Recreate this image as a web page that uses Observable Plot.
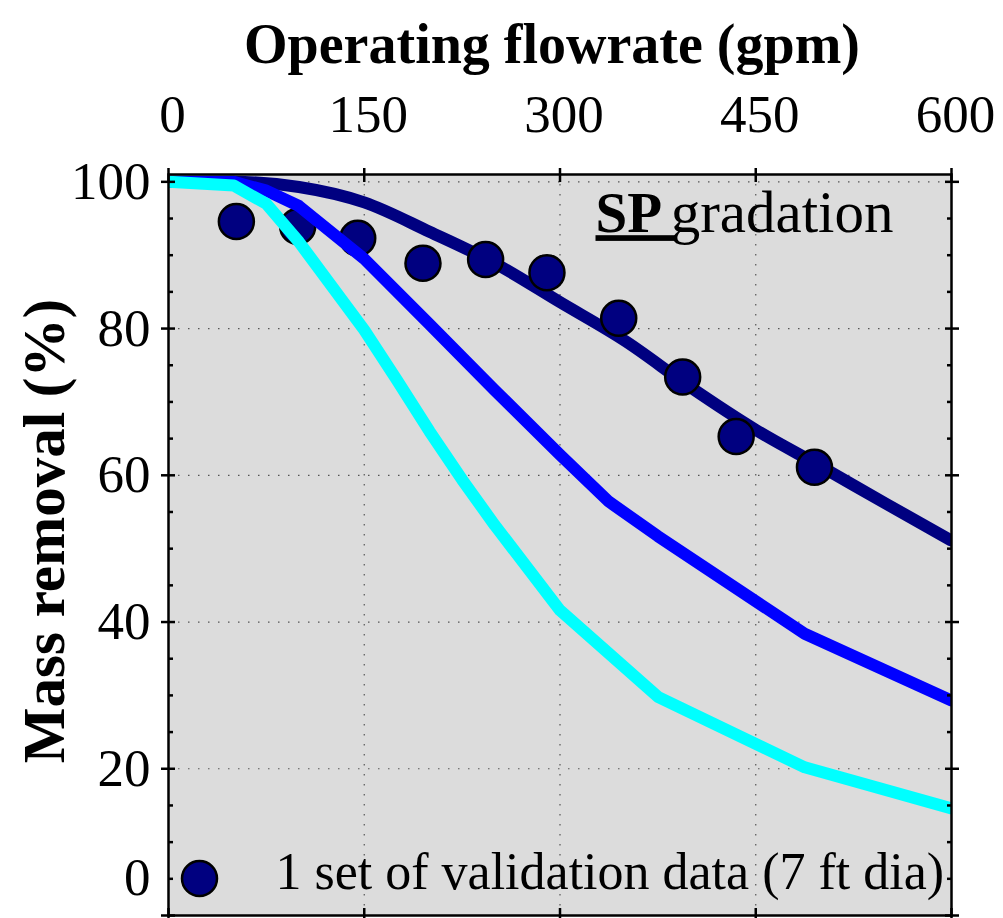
<!DOCTYPE html>
<html>
<head>
<meta charset="utf-8">
<script src="https://cdn.jsdelivr.net/npm/d3@7"></script>
<script src="https://cdn.jsdelivr.net/npm/@observablehq/plot@0.6"></script>
<style>
  html, body { margin: 0; padding: 0; background: #ffffff; }
  #chart svg { display: block; }
</style>
</head>
<body>
<div id="chart"></div>
<script>
// ---- data ----
const xTicks = [0, 150, 300, 450, 600];
const xGrid = [150, 300, 450];
const yTicks = [20, 40, 60, 80, 100];
const yZero = [0];
const yMinor = [5, 10, 15, 25, 30, 35, 45, 50, 55, 65, 70, 75, 85, 90, 95];

// model curves (gpm, % removal)
const navyX = [0, 50, 100, 150, 200, 250, 300, 350, 400, 450, 500, 550, 600];
const navyY = [100, 100, 99.3, 97.2, 93.2, 88.9, 83.6, 78.3, 72.0, 66.2, 61.2, 56.1, 51.1];
const blueX = [0, 50, 75, 100, 150, 200, 250, 300, 337.5, 375, 487.5, 600];
const blueY = [100, 100, 98.8, 96.7, 89.5, 80.6, 71.6, 62.8, 56.4, 51.7, 38.4, 29.3];
const cyanX = [0, 50, 75, 100, 125, 150, 175, 200, 225, 250, 300, 375, 487.5, 600];
const cyanY = [100, 99.5, 97, 91.8, 85.8, 79.8, 73, 66, 59.4, 53.2, 41.6, 29.8, 20.2, 14.6];

// validation data (7 ft dia)
const valX = [52, 99, 145, 195, 243, 290, 345, 394, 435, 495];
const valY = [94.6, 93.9, 92.3, 88.9, 89.4, 87.6, 81.4, 73.4, 65.3, 61.1];

const titleText = "Operating flowrate (gpm)";
const yLabelText = "Mass removal (%)";
const legendText = "1 set of validation data (7 ft dia)";

// ---- build tables ----
const toRows = (xs, ys) => xs.map((x, i) => ({x, y: ys[i]}));
const navy = toRows(navyX, navyY);
const blue = toRows(blueX, blueY);
const cyan = toRows(cyanX, cyanY);
const val = toRows(valX, valY);

const FONT = "'Liberation Serif', 'Times New Roman', serif";
const tickStyle = {stroke: "black", strokeWidth: 2.5, tickFormat: () => "", label: null};

const plot = Plot.plot({
  width: 1003,
  height: 918,
  marginLeft: 168,
  marginRight: 52,
  marginTop: 174,
  marginBottom: 3,
  style: {fontFamily: FONT, background: "white", overflow: "visible"},
  x: {domain: [0, 600], axis: null},
  y: {domain: [0, 101], axis: null},
  marks: [
    Plot.frame({fill: "#dcdcdc", stroke: "none"}),
    Plot.gridX(xGrid, {stroke: "#555", strokeOpacity: 1, strokeWidth: 1.2, strokeDasharray: "1.5,8.5"}),
    Plot.gridY(yTicks, {stroke: "#555", strokeOpacity: 1, strokeWidth: 1.2, strokeDasharray: "1.5,8.5"}),
    Plot.line(navy, {x: "x", y: "y", stroke: "#000080", strokeWidth: 12, clip: true, strokeLinejoin: "round", curve: "monotone-x"}),
    Plot.dot(val, {x: "x", y: "y", r: 17.5, fill: "#000080", stroke: "black", strokeWidth: 2.5}),
    Plot.line(blue, {x: "x", y: "y", stroke: "#0000ff", strokeWidth: 12, clip: true, strokeLinejoin: "round"}),
    Plot.line(cyan, {x: "x", y: "y", stroke: "#00ffff", strokeWidth: 12, clip: true, strokeLinejoin: "round"}),
    Plot.frame({stroke: "black", strokeWidth: 2.5}),
    // major ticks crossing the frame
    Plot.axisX(xTicks, {anchor: "top", tickSize: 14, insetTop: 7, ...tickStyle}),
    Plot.axisX(xTicks, {anchor: "bottom", tickSize: 14, insetBottom: 7, ...tickStyle}),
    Plot.axisY([0, ...yTicks], {anchor: "left", tickSize: 14, insetLeft: 7, ...tickStyle}),
    Plot.axisY([0, ...yTicks], {anchor: "right", tickSize: 14, insetRight: 7, ...tickStyle}),
    // minor y ticks (inside)
    Plot.axisY(yMinor, {anchor: "left", tickSize: 5, insetLeft: 5, ...tickStyle}),
    Plot.axisY(yMinor, {anchor: "right", tickSize: 5, insetRight: 5, ...tickStyle}),
    // tick labels
    Plot.text(xTicks, {x: d => d, text: d => String(d), frameAnchor: "top", dy: -43, dx: 4, lineAnchor: "bottom", fontSize: 53, fill: "black"}),
    Plot.text(yTicks, {y: d => d, text: d => String(d), frameAnchor: "left", dx: -18, textAnchor: "end", fontSize: 53, fill: "black"}),
    Plot.text(yZero, {y: d => d, text: d => String(d), frameAnchor: "left", dx: -18, dy: -37, textAnchor: "end", fontSize: 53, fill: "black"}),
    // title and y label
    Plot.text([titleText], {text: d => d, frameAnchor: "top", dx: -8, dy: -112, lineAnchor: "bottom", textAnchor: "middle", fontSize: 56, fontWeight: "bold", fill: "black"}),
    Plot.text([yLabelText], {text: d => d, frameAnchor: "left", dx: -123, dy: -14, rotate: -90, textAnchor: "middle", fontSize: 59, fontWeight: "bold", fill: "black"}),
    // annotation
    Plot.text(["SP\u00a0"], {text: d => d, frameAnchor: "top-left", dx: 427, dy: 57.7, lineAnchor: "bottom", textAnchor: "start", fontSize: 57, fontWeight: "bold", fill: "black"}),
    Plot.text(["gradation"], {text: d => d, frameAnchor: "top-right", dx: -58, dy: 57.7, lineAnchor: "bottom", textAnchor: "end", fontSize: 59, fill: "black"}),
    // legend
    Plot.dot([legendText], {frameAnchor: "bottom-left", dx: 31, dy: -37, r: 17.5, fill: "#000080", stroke: "black", strokeWidth: 2.5}),
    Plot.text([legendText], {text: d => d, frameAnchor: "bottom-left", dx: 107, dy: -26.5, lineAnchor: "bottom", textAnchor: "start", fontSize: 52, fill: "black"})
  ]
});

d3.select(plot).selectAll("text").filter(function () { return this.textContent === "SP\u00a0"; })
  .style("text-decoration", "underline");

document.getElementById("chart").appendChild(plot);
</script>
</body>
</html>
